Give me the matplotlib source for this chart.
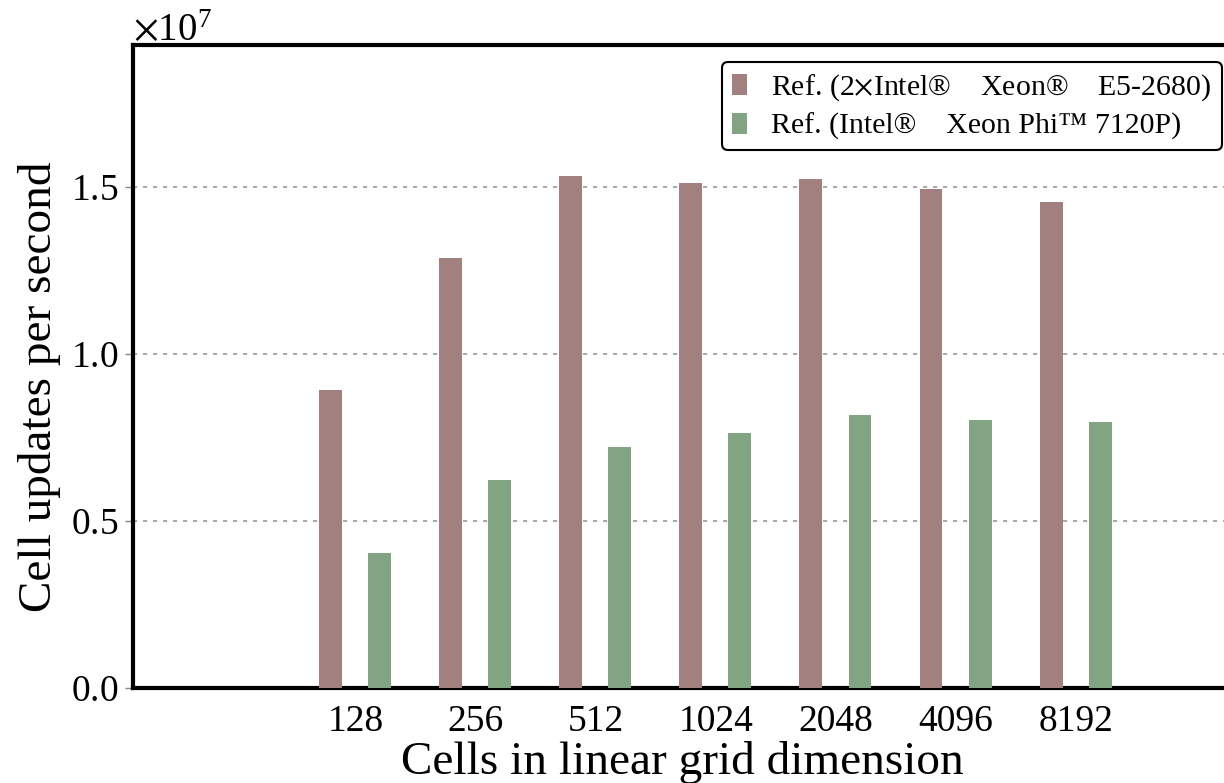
import numpy as np
import matplotlib
matplotlib.use('Agg')
import matplotlib.pyplot as plt
from matplotlib.ticker import ScalarFormatter

plt.rcParams['font.family'] = ['Liberation Serif', 'DejaVu Serif']
plt.rcParams['mathtext.fontset'] = 'stix'

grid_sizes = ['128', '256', '512', '1024', '2048', '4096', '8192']
xeon_cpu = [0.892e7, 1.287e7, 1.533e7, 1.512e7, 1.524e7, 1.494e7, 1.455e7]
xeon_phi = [0.404e7, 0.623e7, 0.722e7, 0.763e7, 0.817e7, 0.802e7, 0.796e7]
labels = ['Ref. (2$\\times$Intel\u00ae    Xeon\u00ae    E5-2680)',
          'Ref. (Intel\u00ae    Xeon Phi\u2122 7120P)']
colors = ['#a38080', '#82a482']

fig = plt.figure(figsize=(12.24, 7.83), dpi=100)
ax = fig.add_axes([0.1087, 0.1213, 0.8983, 0.8212])

x = np.arange(len(grid_sizes))
width = 0.19
offset = 0.2
ax.bar(x - offset - 0.01, xeon_cpu, width, color=colors[0], label=labels[0], zorder=3)
ax.bar(x + offset, xeon_phi, width, color=colors[1], label=labels[1], zorder=3)

ax.set_xlim(-1.85, 7.3)
ax.set_ylim(0, 1.925e7)
ax.set_xticks(x)
ax.set_xticklabels(grid_sizes)
ax.set_yticks([0, 0.5e7, 1.0e7, 1.5e7])

fmt = ScalarFormatter(useMathText=True)
fmt.set_powerlimits((0, 0))
ax.yaxis.set_major_formatter(fmt)
ax.yaxis.get_offset_text().set_fontsize(28)

ax.tick_params(axis='x', length=0, labelsize=27, pad=12)
ax.tick_params(axis='y', length=5.5, width=1, color='#888888', labelsize=27, pad=5)

ax.yaxis.grid(True, linestyle=(0, (2.5, 3.5)), color='#999999', linewidth=1.2, zorder=0)
ax.set_axisbelow(True)

for side in ['left', 'bottom', 'top', 'right']:
    ax.spines[side].set_linewidth(3)
    ax.spines[side].set_color('black')

ax.set_xlabel('Cells in linear grid dimension', fontsize=34, labelpad=1)
ax.set_ylabel('Cell updates per second', fontsize=34, labelpad=7)
ax.yaxis.label.set_y(0.468)

leg = ax.legend(loc='upper right', bbox_to_anchor=(1222 / 1224, 1 - 62 / 783),
                bbox_transform=fig.transFigure, borderaxespad=0, fontsize=21.5,
                handlelength=0.5, handleheight=0.7, handletextpad=0.8,
                borderpad=0.35, labelspacing=0.32, fancybox=True, framealpha=1)
leg.get_frame().set_edgecolor('black')
leg.get_frame().set_linewidth(1.5)

fig.savefig('out.png', dpi=100)
